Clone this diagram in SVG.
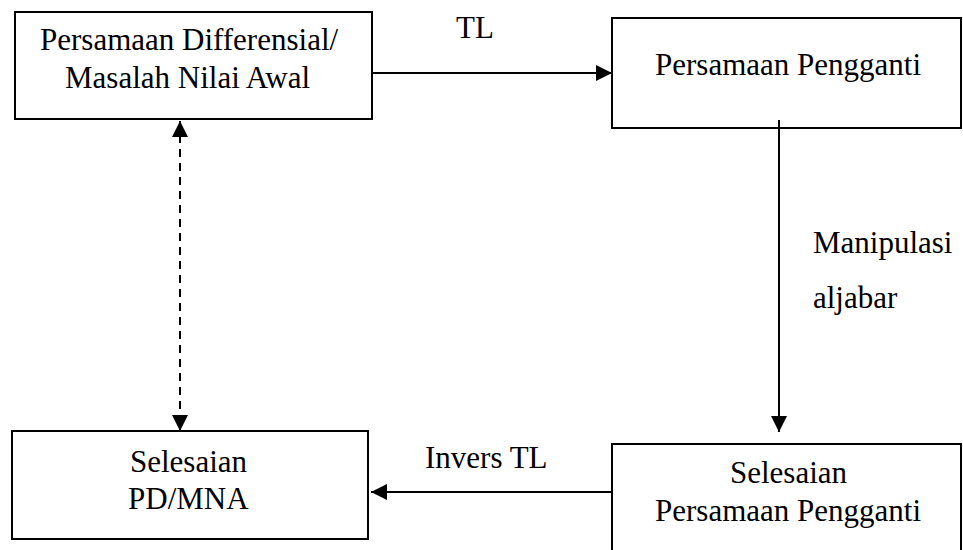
<svg xmlns="http://www.w3.org/2000/svg" width="963" height="550" viewBox="0 0 963 550">
<style>
.box{fill:#fff;stroke:#000;stroke-width:2}
.t{font-family:"Liberation Serif","Times New Roman",serif;font-size:31px;fill:#000}
.c{stroke:#000;stroke-width:2;fill:none}
.d{stroke-dasharray:8 6}
</style>
<defs>
<marker id="ah" markerUnits="userSpaceOnUse" markerWidth="16" markerHeight="16" refX="16" refY="8" orient="auto-start-reverse">
<path d="M0,0 L16,8 L0,16 z" fill="#000"/>
</marker>
</defs>
<rect width="963" height="550" fill="#fff"/>
<g id="node-pd">
<rect class="box" x="15" y="12" width="357" height="107"/>
<text class="t" x="40" y="50">Persamaan Differensial/</text>
<text class="t" x="65" y="88">Masalah Nilai Awal</text>
</g>
<g id="node-pengganti">
<rect class="box" x="612" y="18" width="349" height="110"/>
<text class="t" x="655" y="75">Persamaan Pengganti</text>
</g>
<g id="node-selesaian-pd">
<rect class="box" x="12" y="431" width="356" height="108"/>
<text class="t" x="130" y="472">Selesaian</text>
<text class="t" x="128" y="509">PD/MNA</text>
</g>
<g id="node-selesaian-pengganti">
<rect class="box" x="612" y="444" width="349" height="120"/>
<text class="t" x="730" y="483">Selesaian</text>
<text class="t" x="655" y="521">Persamaan Pengganti</text>
</g>
<g id="connectors">
<line class="c" x1="372" y1="73" x2="612" y2="73" marker-end="url(#ah)"/>
<line class="c" x1="779" y1="120" x2="779" y2="432" marker-end="url(#ah)"/>
<line class="c" x1="612" y1="492" x2="371" y2="492" marker-end="url(#ah)"/>
<line class="c d" x1="180" y1="121" x2="180" y2="431" marker-start="url(#ah)" marker-end="url(#ah)"/>
<text class="t" x="456" y="38">TL</text>
<text class="t" x="813" y="253">Manipulasi</text>
<text class="t" x="813" y="308">aljabar</text>
<text class="t" x="425" y="468">Invers TL</text>
</g>
</svg>
